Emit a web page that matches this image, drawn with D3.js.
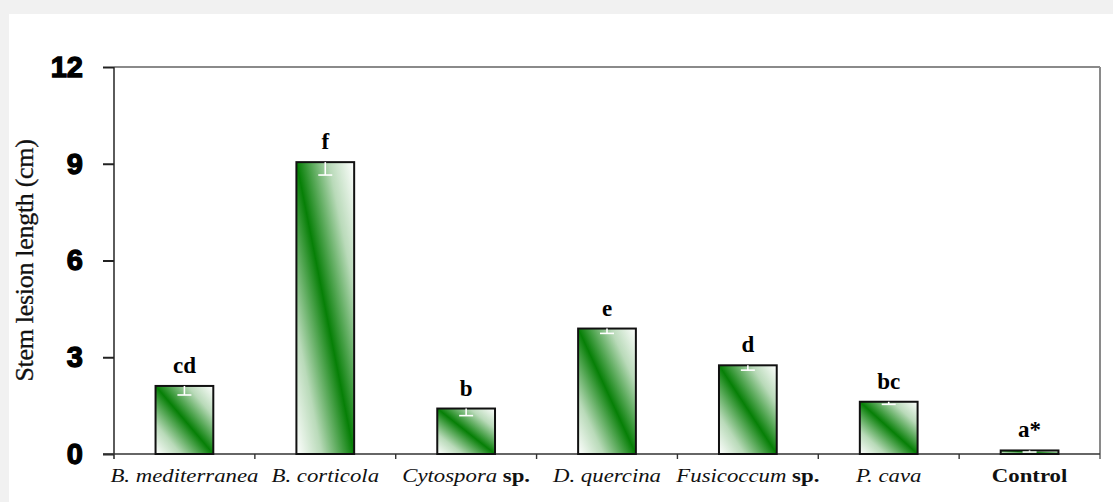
<!DOCTYPE html>
<html>
<head>
<meta charset="utf-8">
<script src="https://cdn.jsdelivr.net/npm/d3@7"></script>
<style>
	body{margin:0;background:#f1f1f1;}
	svg{display:block;}
</style>
</head>
<body>
<svg id="chart" width="1113" height="502"></svg>
<script>
// data
var categories = ["B. mediterranea", "B. corticola", "Cytospora", "D. quercina", "Fusicoccum", "P. cava", "Control"];
var suffixes = ["", "", " sp.", "", " sp.", "", ""];
var lesion = [2.11, 9.05, 1.41, 3.89, 2.75, 1.62, 0.11];
var stderr = [0.28, 0.40, 0.22, 0.15, 0.15, 0.08, 0.05];
var letters = ["cd", "f", "b", "e", "d", "bc", "a*"];
var yTicks = [0, 3, 6, 9, 12];

var svg = d3.select("svg#chart");
var margin = {top: 67, right: 13, bottom: 48, left: 114};
var width = 1113 - margin.left - margin.right;
var height = 502 - margin.top - margin.bottom;

// white panel
svg.append("rect").attr("x", 9).attr("y", 14).attr("width", 1104).attr("height", 488).attr("fill", "#fff");

var defs = svg.append("defs");
var grad = defs.append("linearGradient").attr("id", "barfill")
	.attr("x1", 0).attr("y1", 1).attr("x2", 1).attr("y2", 0);
grad.append("stop").attr("offset", "0%").attr("stop-color", "#ffffff");
grad.append("stop").attr("offset", "22%").attr("stop-color", "#b9dab9");
grad.append("stop").attr("offset", "50%").attr("stop-color", "#067f06");
grad.append("stop").attr("offset", "78%").attr("stop-color", "#b9dab9");
grad.append("stop").attr("offset", "100%").attr("stop-color", "#ffffff");

var g = svg.append("g").attr("transform", "translate(" + margin.left + "," + margin.top + ")");

var x = d3.scaleBand().domain(categories).range([0, width]).paddingInner(0.59).paddingOuter(0.295);
var y = d3.scaleLinear().domain([0, 12]).range([height, 0]);

// frame top & right
g.append("line").attr("x1", 0).attr("x2", width).attr("y1", 0).attr("y2", 0).attr("stroke", "#8a8a8a").attr("stroke-width", 2);
g.append("line").attr("x1", width).attr("x2", width).attr("y1", 0).attr("y2", height + 5).attr("stroke", "#8a8a8a").attr("stroke-width", 2);

// y axis
var yAxis = d3.axisLeft(y).tickValues(yTicks).tickSize(11).tickPadding(20);
var ya = g.append("g").call(yAxis);
ya.select(".domain").attr("stroke", "#333").attr("stroke-width", 1.6).attr("d", "M0,0V" + (height + 5));
ya.selectAll(".tick line").attr("stroke", "#222").attr("stroke-width", 2);
ya.selectAll(".tick text")
	.style("font-family", "'Liberation Sans', Arial, sans-serif")
	.style("font-weight", "bold")
	.style("font-size", "29px")
	.attr("fill", "#000")
	.attr("stroke", "#000")
	.attr("stroke-width", 1.3);

// x axis: line + ticks at band boundaries
g.append("line").attr("x1", -11).attr("x2", width).attr("y1", height).attr("y2", height).attr("stroke", "#333").attr("stroke-width", 1.6);
var step = x.step();
g.append("g").selectAll("line").data(d3.range(1, categories.length)).enter().append("line")
	.attr("x1", function(d){ return d * step; })
	.attr("x2", function(d){ return d * step; })
	.attr("y1", height).attr("y2", height + 5)
	.attr("stroke", "#333").attr("stroke-width", 1.4);

// bars
g.selectAll("rect.bar").data(lesion).enter().append("rect")
	.attr("class", "bar")
	.attr("x", function(d, i){ return x(categories[i]); })
	.attr("y", function(d){ return y(d); })
	.attr("width", x.bandwidth())
	.attr("height", function(d){ return height - y(d); })
	.attr("fill", "url(#barfill)")
	.attr("stroke", "#111")
	.attr("stroke-width", 2);

// error bars (white, drawn inside)
var eb = g.append("g").selectAll("g").data(lesion).enter().append("g")
	.attr("transform", function(d, i){ return "translate(" + (x(categories[i]) + x.bandwidth() / 2) + ",0)"; });
eb.append("line")
	.attr("x1", 0).attr("x2", 0)
	.attr("y1", function(d){ return y(d); })
	.attr("y2", function(d, i){ return y(d - stderr[i]); })
	.attr("stroke", "#fff").attr("stroke-width", 1.6);
eb.append("line")
	.attr("x1", -7).attr("x2", 7)
	.attr("y1", function(d, i){ return y(d - stderr[i]); })
	.attr("y2", function(d, i){ return y(d - stderr[i]); })
	.attr("stroke", "#fff").attr("stroke-width", 1.6);

// significance letters
g.selectAll("text.letter").data(lesion).enter().append("text")
	.attr("class", "letter")
	.attr("x", function(d, i){ return x(categories[i]) + x.bandwidth() / 2; })
	.attr("y", function(d){ return y(d) - 13; })
	.attr("text-anchor", "middle")
	.style("font-family", "'Liberation Serif', 'Times New Roman', serif")
	.style("font-weight", "bold")
	.style("font-size", "23px")
	.text(function(d, i){ return letters[i]; });

// category labels
var lab = g.selectAll("text.cat").data(categories).enter().append("text")
	.attr("class", "cat")
	.attr("transform", function(d){ return "translate(" + (x(d) + x.bandwidth() / 2) + "," + (height + 28) + ") scale(1.2,1)"; })
	.attr("text-anchor", "middle")
	.style("font-family", "'Liberation Serif', 'Times New Roman', serif")
	.style("font-size", "19px")
	.attr("fill", "#111");
lab.append("tspan")
	.style("font-style", function(d){ return d == "Control" ? "normal" : "italic"; })
	.style("font-weight", function(d){ return d == "Control" ? "bold" : "normal"; })
	.text(function(d){ return d; });
lab.append("tspan")
	.style("font-weight", "bold")
	.text(function(d, i){ return suffixes[i]; });

// y title
svg.append("text")
	.attr("transform", "translate(33," + (margin.top + height / 2) + ") rotate(-90)")
	.attr("text-anchor", "middle")
	.style("font-family", "'Liberation Serif', 'Times New Roman', serif")
	.style("font-size", "26px")
	.style("letter-spacing", "-0.3px")
	.attr("fill", "#111")
	.attr("stroke", "#111")
	.attr("stroke-width", 0.3)
	.text("Stem lesion length (cm)");
</script>
</body>
</html>
